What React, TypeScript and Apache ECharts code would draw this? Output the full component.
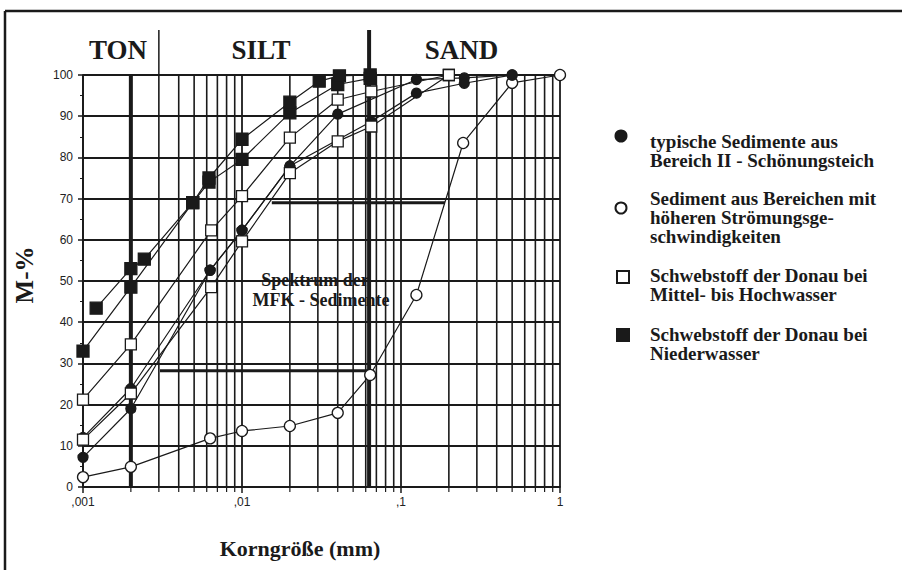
import React, { useEffect, useRef } from "react";
import * as echarts from "echarts";

// ---- data (x: grain size in mm, y: cumulative mass %) ----
const filledSquareA = [[0.00121, 43.4], [0.002, 53], [0.00243, 55.3], [0.0049, 69], [0.0062, 75], [0.01, 84.4], [0.02, 93.4], [0.0306, 98.5], [0.041, 99.8], [0.064, 100]];
const filledSquareB = [[0.001, 33], [0.002, 48.5], [0.0049, 69], [0.0062, 74], [0.01, 79.5], [0.02, 90.8], [0.04, 97.7], [0.064, 99.2]];
const openSquareC = [[0.001, 21.2], [0.002, 34.6], [0.0064, 62.3], [0.01, 70.6], [0.02, 84.8], [0.04, 94], [0.065, 96], [0.2, 100]];
const openSquareD = [[0.001, 11.5], [0.002, 22.7], [0.0064, 48.5], [0.01, 59.6], [0.02, 76.2], [0.04, 83.9], [0.065, 87.5], [0.2, 100]];
const filledCircleE = [[0.001, 7.2], [0.002, 19], [0.0063, 52.6], [0.01, 62.3], [0.02, 77.9], [0.04, 90.5], [0.125, 98.9], [0.25, 99.3], [0.5, 100]];
const filledCircleF = [[0.001, 12], [0.002, 23.9], [0.0063, 52.6], [0.01, 62.3], [0.02, 77.9], [0.065, 88.7], [0.125, 95.6], [0.25, 98], [0.5, 100]];
const openCircleG = [[0.001, 2.4], [0.002, 4.9], [0.0063, 11.8], [0.01, 13.6], [0.02, 14.8], [0.04, 18], [0.064, 27.2], [0.125, 46.6], [0.246, 83.5], [0.5, 98.1], [1, 100]];

// spectrum band of MFK sediments
const spectrumUpper = [[0.0154, 69], [0.189, 69]];
const spectrumLower = [[0.00305, 28.2], [0.064, 28.2]];

// axis
const xTickLabels: Record<string, string> = { "0.001": ",001", "0.01": ",01", "0.1": ",1", "1": "1" };
const minorGrid = [0.002, 0.003, 0.004, 0.005, 0.006, 0.007, 0.008, 0.009, 0.02, 0.03, 0.04, 0.05, 0.06, 0.07, 0.08, 0.09, 0.2, 0.3, 0.4, 0.5, 0.6, 0.7, 0.8, 0.9];
const thickGrid = [0.002, 0.063];
const headerDividers = [0.003, 0.063];
const headerLabels = [
  { text: "TON", from: 0.001, to: 0.003 },
  { text: "SILT", from: 0.003, to: 0.063 },
  { text: "SAND", from: 0.063, to: 1 },
];

const legendItems = [
  { symbol: "circle", filled: true, lines: ["typische Sedimente aus", "Bereich II - Schönungsteich"] },
  { symbol: "circle", filled: false, lines: ["Sediment aus Bereichen mit", "höheren Strömungsge-", "schwindigkeiten"] },
  { symbol: "rect", filled: false, lines: ["Schwebstoff der Donau bei", "Mittel- bis Hochwasser"] },
  { symbol: "rect", filled: true, lines: ["Schwebstoff der Donau bei", "Niederwasser"] },
];

const INK = "#1a1a1a";
const SERIF = "'Liberation Serif', 'DejaVu Serif', serif";
const SANS = "'Liberation Sans', 'DejaVu Sans', sans-serif";

function dataSeries(data: number[][], symbol: string, filled: boolean, size: number) {
  return {
    type: "line",
    data,
    symbol,
    symbolSize: size,
    showSymbol: true,
    z: 5,
    lineStyle: { color: INK, width: 1.2 },
    itemStyle: { color: filled ? INK : "#ffffff", borderColor: INK, borderWidth: 1.3 },
    emphasis: { disabled: true },
  };
}

function gridLineSeries(v: number, width: number) {
  return {
    type: "line",
    data: [[v, 0], [v, 100]],
    symbol: "none",
    silent: true,
    z: 1,
    lineStyle: { color: INK, width },
    emphasis: { disabled: true },
  };
}

export default function App() {
  const ref = useRef<HTMLDivElement>(null);
  useEffect(() => {
    document.body.style.margin = "0";
    if (!ref.current) return;
    const chart = echarts.init(ref.current, null, { renderer: "svg" });
    const gridLeft = 83, gridTop = 75, gridW = 477, gridH = 412;
    const option: any = {
      animation: false,
      backgroundColor: "#ffffff",
      grid: { left: gridLeft, top: gridTop, width: gridW, height: gridH, show: false },
      xAxis: {
        type: "log",
        logBase: 10,
        min: 0.001,
        max: 1,
        axisLine: { show: true, onZero: false, lineStyle: { color: INK, width: 1.8 } },
        axisTick: { show: true, length: 6, lineStyle: { color: INK, width: 1.5 } },
        axisLabel: {
          color: "#222",
          fontFamily: SANS,
          fontSize: 12,
          margin: 9,
          formatter: (v: number) => xTickLabels[String(Number(v.toPrecision(3)))] ?? "",
        },
        splitLine: { show: true, lineStyle: { color: INK, width: 1.8 } },
      },
      yAxis: {
        type: "value",
        min: 0,
        max: 100,
        interval: 10,
        axisLine: { show: true, lineStyle: { color: INK, width: 1.8 } },
        axisTick: { show: true, length: 5, lineStyle: { color: INK, width: 1.5 } },
        minorTick: { show: true, splitNumber: 2, length: 3, lineStyle: { color: INK, width: 1 } },
        axisLabel: { color: "#222", fontFamily: SANS, fontSize: 12, margin: 10 },
        splitLine: { show: true, lineStyle: { color: INK, width: 1.8 } },
      },
      series: [
        ...minorGrid.map((v) => gridLineSeries(v, 1.6)),
        ...thickGrid.map((v) => gridLineSeries(v, 4)),
        {
          type: "custom",
          coordinateSystem: "cartesian2d",
          z: 2,
          silent: true,
          clip: false,
          encode: { x: 0, y: 1 },
          data: minorGrid.map((v) => [v, 0]),
          renderItem: (params: any, api: any) => {
            const p = api.coord([api.value(0), api.value(1)]);
            return { type: "line", shape: { x1: p[0], y1: p[1], x2: p[0], y2: p[1] + 5 }, style: { stroke: INK, lineWidth: 1.2 } };
          },
        },
        {
          type: "line", data: spectrumUpper, symbol: "none", z: 3, silent: true,
          lineStyle: { color: INK, width: 3 },
        },
        {
          type: "line", data: spectrumLower, symbol: "none", z: 3, silent: true,
          lineStyle: { color: INK, width: 3 },
        },
        dataSeries(openCircleG, "circle", false, 11),
        dataSeries(filledCircleE, "circle", true, 10),
        dataSeries(filledCircleF, "circle", true, 10),
        dataSeries(openSquareD, "rect", false, 11),
        dataSeries(openSquareC, "rect", false, 11),
        dataSeries(filledSquareB, "rect", true, 12),
        dataSeries(filledSquareA, "rect", true, 12),
      ],
    };
    chart.setOption(option);

    const px = (v: number) => chart.convertToPixel({ xAxisIndex: 0 }, v) as number;
    const graphics: any[] = [];
    // frame
    graphics.push({ type: "line", shape: { x1: 5, y1: 11, x2: 902, y2: 11 }, style: { stroke: INK, lineWidth: 2.5 } });
    graphics.push({ type: "line", shape: { x1: 5, y1: 11, x2: 5, y2: 570 }, style: { stroke: INK, lineWidth: 2.5 } });
    // header
    headerDividers.forEach((v) => {
      graphics.push({ type: "line", shape: { x1: px(v), y1: 30, x2: px(v), y2: gridTop }, style: { stroke: INK, lineWidth: v === 0.063 ? 4 : 1.5 } });
    });
    headerLabels.forEach((h) => {
      const cx = (px(h.from) + px(h.to)) / 2 - 3;
      graphics.push({
        type: "text", x: cx, y: 50,
        style: { text: h.text, font: `bold 27px ${SERIF}`, fill: INK, textAlign: "center", textVerticalAlign: "middle" },
      });
    });
    // spectrum text
    graphics.push({
      type: "text", x: 315, y: 280, z: 10,
      style: { text: "Spektrum der", font: `bold 18px ${SERIF}`, fill: INK, textAlign: "center", textVerticalAlign: "middle" },
    });
    graphics.push({
      type: "text", x: 321, y: 300, z: 10,
      style: { text: "MFK - Sedimente", font: `bold 18px ${SERIF}`, fill: INK, textAlign: "center", textVerticalAlign: "middle" },
    });
    // axis names
    graphics.push({
      type: "text", x: 24, y: 275, rotation: Math.PI / 2,
      style: { text: "M-%", font: `bold 25px ${SERIF}`, fill: INK, textAlign: "center", textVerticalAlign: "middle" },
    });
    graphics.push({
      type: "text", x: 300, y: 548,
      style: { text: "Korngröße (mm)", font: `bold 22px ${SERIF}`, fill: INK, textAlign: "center", textVerticalAlign: "middle" },
    });
    // legend
    const legendTops = [141, 198, 275, 334];
    const markerY = [136, 208, 277, 335];
    legendItems.forEach((it, i) => {
      const y0 = legendTops[i];
      const my = markerY[i];
      if (it.symbol === "circle") {
        graphics.push({ type: "circle", shape: { cx: 621, cy: my, r: 5.5 }, style: { fill: it.filled ? INK : "#fff", stroke: INK, lineWidth: 2 } });
      } else {
        graphics.push({ type: "rect", shape: { x: 617, y: my - 6, width: 12, height: 12 }, style: { fill: it.filled ? INK : "#fff", stroke: INK, lineWidth: 2 } });
      }
      it.lines.forEach((ln, j) => {
        graphics.push({
          type: "text", x: 650, y: y0 + j * 19,
          style: { text: ln, font: `bold 19px ${SERIF}`, fill: INK, textAlign: "left", textVerticalAlign: "middle" },
        });
      });
    });
    chart.setOption({ graphic: graphics });

    return () => chart.dispose();
  }, []);
  return <div ref={ref} style={{ width: 902, height: 570 }} />;
}
